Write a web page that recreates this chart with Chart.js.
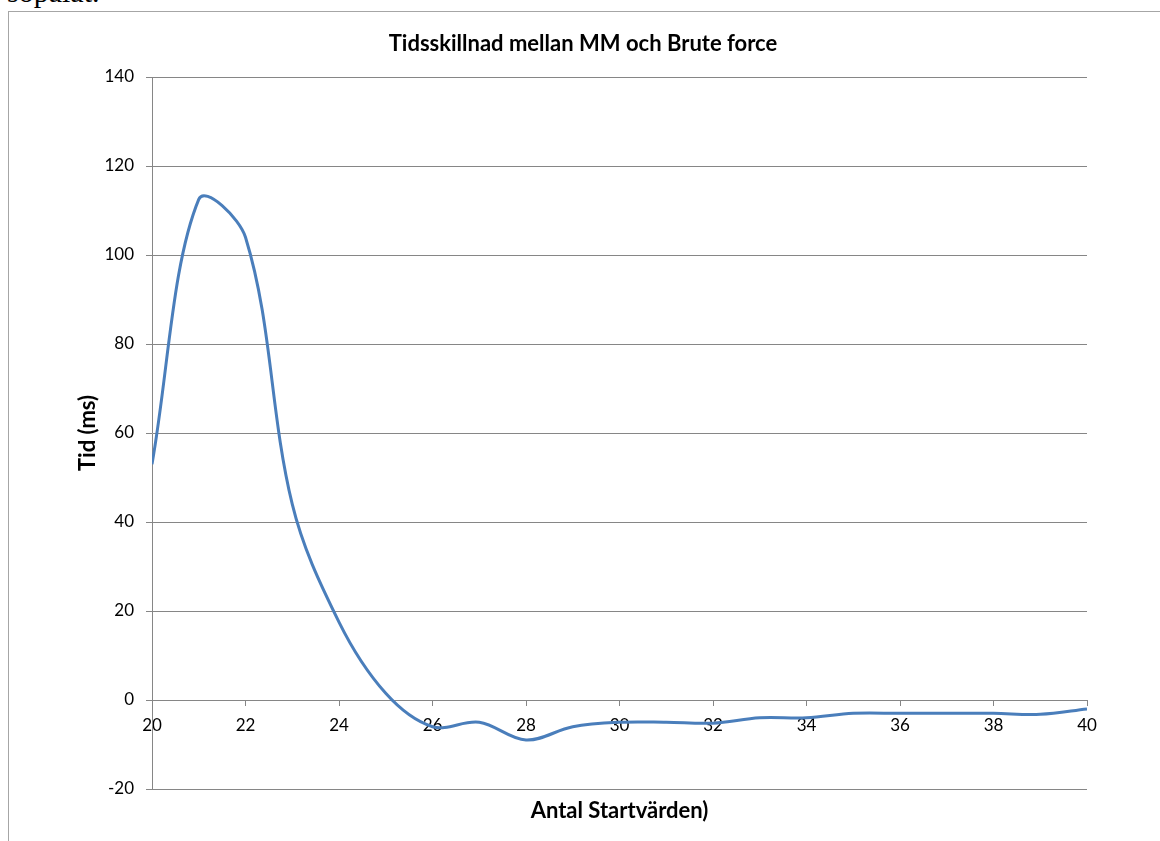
<!DOCTYPE html>
<html><head><meta charset="utf-8">
<script src="https://cdn.jsdelivr.net/npm/chart.js@4"></script>
<style>
html,body{margin:0;padding:0;background:#fff;overflow:hidden;width:1160px;height:841px;}
#frame{position:absolute;left:8px;top:11px;width:1200px;height:900px;border-top:1px solid #a6a6a6;border-left:1px solid #a6a6a6;}
#doc{position:absolute;left:7px;top:-23px;font-family:"Liberation Serif";font-size:30px;line-height:30px;color:#000;white-space:nowrap;}
canvas{position:absolute;left:0;top:0;}
</style></head><body>
<div id="doc">sopalat.</div>
<div id="frame"></div>
<canvas id="c" width="1160" height="841"></canvas>
<script>
const chartTitle = 'Tidsskillnad mellan MM och Brute force';
const xAxisTitle = 'Antal Startvärden)';
const yAxisTitle = 'Tid (ms)';
const xValues = [20, 21, 22, 23, 24, 25, 26, 27, 28, 29, 30, 31, 32, 33, 34, 35, 36, 37, 38, 39, 40];
const tidValues = [53, 112.5, 104, 44, 17.5, 1.5, -6, -5, -9, -6, -5, -5, -5.2, -4, -4, -3, -3, -3, -3, -3.2, -2];
const xTickValues = [20, 22, 24, 26, 28, 30, 32, 34, 36, 38, 40];
const yTickValues = [-20, 0, 20, 40, 60, 80, 100, 120, 140];

const FONT = 'Lato';
const GRID = '#868686';

const points = xValues.map((x, i) => ({x: x, y: tidValues[i]}));

new Chart(document.getElementById('c'), {
  type: 'line',
  data: {
    datasets: [{
      data: points,
      borderColor: '#4A7EBB',
      borderWidth: 3,
      pointRadius: 0,
      tension: 0.35,
      fill: false
    }]
  },
  options: {
    responsive: false,
    animation: false,
    devicePixelRatio: 1,
    layout: {padding: {left: 6, right: 0, top: 0, bottom: 0}},
    plugins: {
      legend: {display: false},
      tooltip: {enabled: false},
      title: {
        display: true,
        text: chartTitle,
        color: '#000',
        font: {family: FONT, size: 22, weight: 'bold'},
        padding: {top: 30.8, bottom: 19.8}
      }
    },
    scales: {
      x: {
        type: 'linear',
        min: 20, max: 40,
        position: {y: 0},
        afterBuildTicks: s => { s.ticks = xTickValues.map(v => ({value: v})); },
        grid: {display: true, drawOnChartArea: false, drawTicks: true, tickLength: 5, color: GRID},
        border: {display: true, color: GRID, width: 1},
        ticks: {color: '#000', font: {family: FONT, size: 17}, padding: 10, maxRotation: 0, autoSkip: false}
      },
      xTitle: {
        type: 'linear',
        min: 20, max: 40,
        position: 'bottom',
        grid: {display: false, drawTicks: false},
        border: {display: false},
        ticks: {display: false},
        title: {display: true, text: xAxisTitle, color: '#000', font: {family: FONT, size: 22, weight: 'bold'}, padding: {top: 8.8, bottom: 16.8}}
      },
      y: {
        type: 'linear',
        min: -20, max: 140,
        position: 'left',
        afterBuildTicks: s => { s.ticks = yTickValues.map(v => ({value: v})); },
        afterFit: s => { s.width = 146; },
        grid: {color: GRID, drawTicks: true, tickLength: 6},
        border: {display: true, color: GRID, width: 1},
        ticks: {color: '#000', font: {family: FONT, size: 17}, padding: 12},
        title: {display: true, text: yAxisTitle, color: '#000', font: {family: FONT, size: 22, weight: 'bold'}, padding: {top: 68.8}}
      },
      yPad: {
        type: 'linear',
        position: 'right',
        grid: {display: false, drawTicks: false},
        border: {display: false},
        ticks: {display: false},
        afterFit: s => { s.width = 73; }
      }
    }
  }
});
</script>
</body></html>
